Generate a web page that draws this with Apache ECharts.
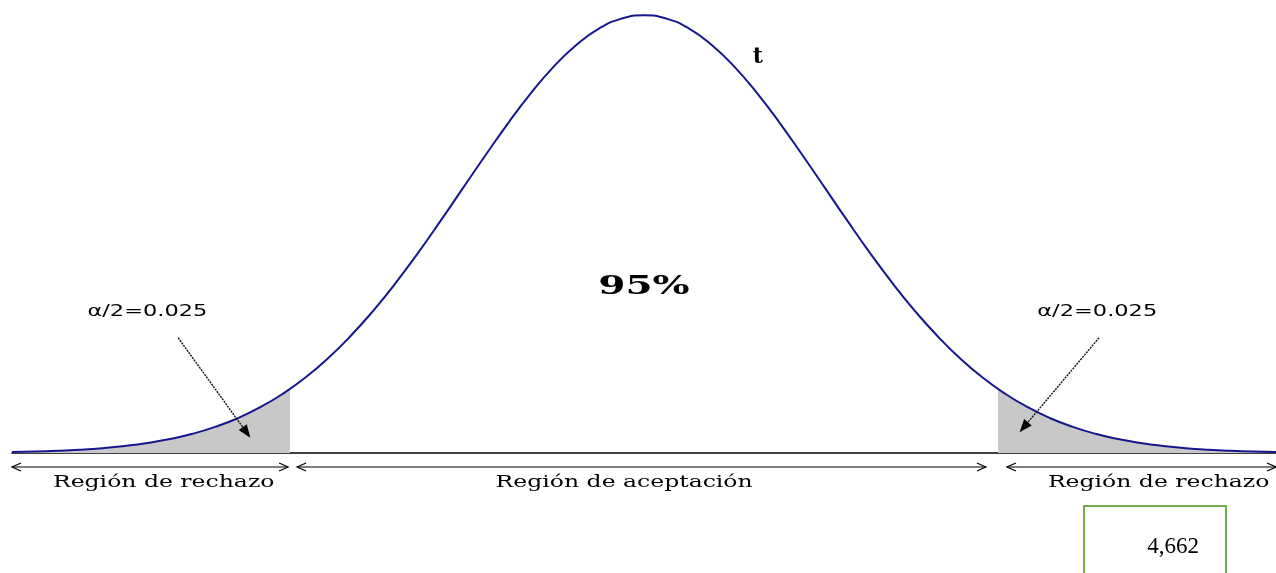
<!DOCTYPE html>
<html>
<head>
<meta charset="utf-8">
<script src="https://cdn.jsdelivr.net/npm/echarts@6/dist/echarts.min.js"></script>
<style>
  html, body { margin: 0; padding: 0; background: #fff; }
  #chart { width: 1276px; height: 573px; }
</style>
</head>
<body>
<div id="chart"></div>
<script>
// curva t
const zValues = [-3.5, -3.375, -3.25, -3.125, -3, -2.875, -2.75, -2.625, -2.5, -2.375, -2.25, -2.125, -2,
  -1.875, -1.75, -1.625, -1.5, -1.375, -1.25, -1.125, -1, -0.875, -0.75, -0.625, -0.5, -0.375, -0.25, -0.125, 0,
  0.125, 0.25, 0.375, 0.5, 0.625, 0.75, 0.875, 1, 1.125, 1.25, 1.375, 1.5, 1.625, 1.75, 1.875,
  2, 2.125, 2.25, 2.375, 2.5, 2.625, 2.75, 2.875, 3, 3.125, 3.25, 3.375, 3.5]
const density = [0.0009, 0.0013, 0.0020, 0.0030, 0.0044, 0.0064, 0.0091, 0.0127, 0.0175, 0.0238, 0.0317, 0.0417, 0.0540,
  0.0688, 0.0863, 0.1066, 0.1295, 0.1550, 0.1826, 0.2119, 0.2420, 0.2720, 0.3011, 0.3281, 0.3521, 0.3718, 0.3867, 0.3958, 0.3989,
  0.3958, 0.3867, 0.3718, 0.3521, 0.3281, 0.3011, 0.2720, 0.2420, 0.2119, 0.1826, 0.1550, 0.1295, 0.1066, 0.0863, 0.0688,
  0.0540, 0.0417, 0.0317, 0.0238, 0.0175, 0.0127, 0.0091, 0.0064, 0.0044, 0.0030, 0.0020, 0.0013, 0.0009]

// valor crítico y altura de la curva en él
const critical = 1.96
const criticalDensity = 0.0584
const regionBounds = [-3.5, -1.96, 1.96, 3.5]
const regionLabels = ['Región de rechazo', 'Región de aceptación', 'Región de rechazo']
const regionLabelX = [-2.66, -0.11, 2.85]
const alphaLabel = 'α/2=0.025'
const centerLabel = '95%'
const curveLabel = 't'
const boxValue = '4,662'

const chart = echarts.init(document.getElementById('chart'))

const points = zValues.map((z, i) => [z, density[i]])
const leftTail = points.filter(p => p[0] < -critical).concat([[-critical, criticalDensity]])
const rightTail = [[critical, criticalDensity]].concat(points.filter(p => p[0] > critical))

const option = {
  animation: false,
  grid: { left: 12, right: 0, top: 14, bottom: 120 },
  xAxis: {
    type: 'value', min: -3.5, max: 3.5,
    axisLine: { lineStyle: { color: '#000', width: 1.5 } },
    axisTick: { show: false }, axisLabel: { show: false }, splitLine: { show: false }
  },
  yAxis: {
    type: 'value', min: 0, max: 0.4, show: false, splitLine: { show: false }
  },
  series: [
    {
      type: 'line', data: leftTail, smooth: true, symbol: 'none',
      lineStyle: { width: 0 }, areaStyle: { color: '#c8c8c8', opacity: 1 }
    },
    {
      type: 'line', data: rightTail, smooth: true, symbol: 'none',
      lineStyle: { width: 0 }, areaStyle: { color: '#c8c8c8', opacity: 1 }
    },
    {
      type: 'line', data: points, smooth: true, symbol: 'none', z: 5,
      lineStyle: { color: '#16168f', width: 2 }
    }
  ]
}
chart.setOption(option)

// anotaciones
const px = (x, y) => chart.convertToPixel({ gridIndex: 0 }, [x, y])
const graphic = []

const serif = '"DejaVu Serif", "Liberation Serif", serif'
const addText = (p, text, font, scaleX) => {
  graphic.push({
    type: 'text', x: p[0], y: p[1], scaleX: scaleX, z: 100,
    style: { text, font, fill: '#000', textAlign: 'center', textVerticalAlign: 'middle' }
  })
}

// flechas dobles bajo el eje
const arrowY = px(0, 0)[1] + 14
const chevron = (x, dir) => ({
  type: 'polyline', z: 100,
  shape: { points: [[x + dir * 9, arrowY - 4], [x, arrowY], [x + dir * 9, arrowY + 4]] },
  style: { stroke: '#000', lineWidth: 1.2, fill: null }
})
const gaps = [[0, 2], [7, 12], [9, 0]]
regionLabels.forEach((label, i) => {
  const x1 = px(regionBounds[i], 0)[0] + gaps[i][0]
  const x2 = px(regionBounds[i + 1], 0)[0] - gaps[i][1]
  graphic.push({ type: 'line', z: 100, shape: { x1, y1: arrowY, x2, y2: arrowY }, style: { stroke: '#000', lineWidth: 1.2 } })
  graphic.push(chevron(x1, 1), chevron(x2, -1))
  addText([px(regionLabelX[i], 0)[0], arrowY + 16], label, '16px ' + serif, 1.47)
})

// etiquetas alfa y flechas
const alphaPos = [[-2.75, 0.128], [2.51, 0.128]]
const alphaArrows = [[[-2.58, 0.105], [-2.18, 0.014]], [[2.52, 0.105], [2.08, 0.019]]]
alphaPos.forEach((p, i) => {
  addText(px(p[0], p[1]), alphaLabel, '15px "DejaVu Sans", sans-serif', 1.5)
  const a = px(alphaArrows[i][0][0], alphaArrows[i][0][1])
  const b = px(alphaArrows[i][1][0], alphaArrows[i][1][1])
  const ang = Math.atan2(b[1] - a[1], b[0] - a[0])
  const L = 13, W = 5
  graphic.push({
    type: 'line', z: 100,
    shape: { x1: a[0], y1: a[1], x2: b[0] - (L - 2) * Math.cos(ang), y2: b[1] - (L - 2) * Math.sin(ang) },
    style: { stroke: '#111', lineWidth: 1.4, lineDash: [2, 1] }
  })
  graphic.push({
    type: 'polygon', z: 100,
    shape: { points: [
      [b[0], b[1]],
      [b[0] - L * Math.cos(ang) + W * Math.sin(ang), b[1] - L * Math.sin(ang) - W * Math.cos(ang)],
      [b[0] - L * Math.cos(ang) - W * Math.sin(ang), b[1] - L * Math.sin(ang) + W * Math.cos(ang)]
    ] },
    style: { fill: '#000' }
  })
})

addText(px(0, 0.151), centerLabel, 'bold 26px ' + serif, 1.5)
addText(px(0.63, 0.361), curveLabel, 'bold 22px ' + serif, 1)

// recuadro verde
graphic.push({ type: 'rect', z: 100, shape: { x: 1084, y: 506, width: 142, height: 80 }, style: { stroke: '#70ad47', lineWidth: 2, fill: null } })
graphic.push({
  type: 'text', x: 1173, y: 547, z: 100,
  style: { text: boxValue, font: '23px "Liberation Serif", serif', fill: '#000', textAlign: 'center', textVerticalAlign: 'middle' }
})

chart.setOption({ graphic })
window.addEventListener('resize', () => chart.resize())
</script>
</body>
</html>
